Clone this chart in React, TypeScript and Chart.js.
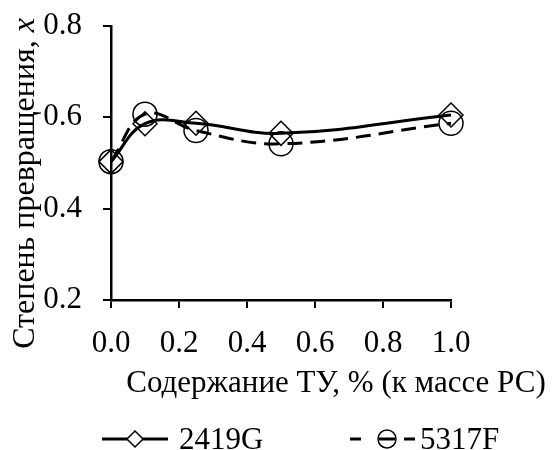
import React, { useEffect, useRef } from "react";
import { Chart, registerables } from "chart.js";

Chart.register(...registerables);

const xValues = [0, 0.1, 0.25, 0.5, 1.0];
const series2419G = [0.503, 0.586, 0.587, 0.565, 0.605];
const series5317F = [0.503, 0.607, 0.571, 0.542, 0.587];
const seriesNames = ["2419G", "5317F"];
const xTitle = "Содержание ТУ, % (к массе РС)";
const yTitleMain = "Степень превращения, ";
const yTitleVar = "x";

const FONT = '"Liberation Serif", "Times New Roman", serif';
const FS = 31;
const YFS = 32;

const decorPlugin = {
  id: "decor",
  afterDraw(chart: any) {
    const ctx = chart.ctx as CanvasRenderingContext2D;
    ctx.save();
    ctx.fillStyle = "#000";
    ctx.strokeStyle = "#000";
    // X title
    ctx.font = `${FS}px ${FONT}`;
    ctx.textAlign = "center";
    ctx.textBaseline = "alphabetic";
    ctx.fillText(xTitle, 336, 392);
    // Y title (rotated)
    ctx.save();
    ctx.translate(34, 0);
    ctx.rotate(-Math.PI / 2);
    ctx.textAlign = "left";
    ctx.font = `${YFS}px ${FONT}`;
    const w1 = ctx.measureText(yTitleMain).width;
    ctx.font = `italic ${YFS}px ${FONT}`;
    const w2 = ctx.measureText(yTitleVar).width;
    const endY = 18;
    const startY = endY + w1 + w2;
    ctx.font = `${YFS}px ${FONT}`;
    ctx.fillText(yTitleMain, -startY, 0);
    ctx.font = `italic ${YFS}px ${FONT}`;
    ctx.fillText(yTitleVar, -startY + w1, 0);
    ctx.restore();
    // Legend
    const ly = 439;
    ctx.lineWidth = 3;
    ctx.setLineDash([]);
    ctx.beginPath();
    ctx.moveTo(102, ly);
    ctx.lineTo(168, ly);
    ctx.stroke();
    ctx.lineWidth = 1.5;
    ctx.fillStyle = "#fff";
    ctx.beginPath();
    ctx.moveTo(135, ly - 8);
    ctx.lineTo(143, ly);
    ctx.lineTo(135, ly + 8);
    ctx.lineTo(127, ly);
    ctx.closePath();
    ctx.fill();
    ctx.stroke();
    ctx.lineWidth = 3;
    ctx.beginPath();
    ctx.moveTo(350, ly);
    ctx.lineTo(361, ly);
    ctx.moveTo(404, ly);
    ctx.lineTo(415, ly);
    ctx.moveTo(379, ly);
    ctx.lineTo(395, ly);
    ctx.stroke();
    ctx.lineWidth = 1.5;
    ctx.beginPath();
    ctx.arc(387, ly, 9, 0, Math.PI * 2);
    ctx.stroke();
    ctx.fillStyle = "#000";
    ctx.font = `${FS}px ${FONT}`;
    ctx.textAlign = "left";
    ctx.fillText(seriesNames[0], 179, 449);
    ctx.fillText(seriesNames[1], 420, 449);
    ctx.restore();
  },
};

export default function App() {
  const ref = useRef<HTMLCanvasElement | null>(null);
  useEffect(() => {
    if (!ref.current) return;
    const chart = new Chart(ref.current, {
      type: "line",
      data: {
        datasets: [
          {
            label: seriesNames[0],
            data: xValues.map((x, i) => ({ x, y: series2419G[i] })),
            borderColor: "#000",
            borderWidth: 3,
            backgroundColor: "rgba(0,0,0,0)",
            pointStyle: "rectRot",
            pointRadius: 12,
            pointBorderWidth: 1.5,
            pointBorderColor: "#000",
            pointBackgroundColor: "rgba(0,0,0,0)",
            tension: 0.4,
            clip: false as any,
          },
          {
            label: seriesNames[1],
            data: xValues.map((x, i) => ({ x, y: series5317F[i] })),
            borderColor: "#000",
            borderWidth: 3,
            borderDash: [15, 8],
            backgroundColor: "rgba(0,0,0,0)",
            pointStyle: "circle",
            pointRadius: 12,
            pointBorderWidth: 1.5,
            pointBorderColor: "#000",
            pointBackgroundColor: "rgba(0,0,0,0)",
            tension: 0.4,
            clip: false as any,
          },
        ],
      },
      options: {
        animation: false,
        responsive: false,
        layout: { padding: { left: 0, top: 26, right: 104, bottom: 0 } },
        plugins: { legend: { display: false }, tooltip: { enabled: false } },
        scales: {
          x: {
            type: "linear",
            min: 0,
            max: 1,
            afterFit: (s: any) => {
              s.height = 150;
              s.paddingLeft = 0;
              s.paddingRight = 0;
            },
            ticks: {
              stepSize: 0.2,
              color: "#000",
              font: { family: FONT, size: FS },
              padding: 17,
              maxRotation: 0,
              callback: (v: any) => Number(v).toFixed(1),
            },
            grid: {
              display: true,
              drawOnChartArea: false,
              drawTicks: true,
              tickLength: 8,
              color: "#000",
              lineWidth: 2,
            },
            border: { display: true, color: "#000", width: 2.5 },
          },
          y: {
            type: "linear",
            min: 0.2,
            max: 0.8,
            afterFit: (s: any) => {
              s.width = 111;
              s.paddingTop = 0;
              s.paddingBottom = 0;
            },
            ticks: {
              stepSize: 0.2,
              color: "#000",
              font: { family: FONT, size: FS },
              padding: 21,
              callback: (v: any) => Number(v).toFixed(1),
            },
            grid: {
              display: true,
              drawOnChartArea: false,
              drawTicks: true,
              tickLength: 8,
              color: "#000",
              lineWidth: 2,
            },
            border: { display: true, color: "#000", width: 2.5 },
          },
        },
      },
      plugins: [decorPlugin],
    });
    return () => chart.destroy();
  }, []);
  return (
    <div style={{ position: "fixed", left: 0, top: 0, width: 555, height: 450 }}>
      <canvas ref={ref} width={555} height={450} />
    </div>
  );
}
